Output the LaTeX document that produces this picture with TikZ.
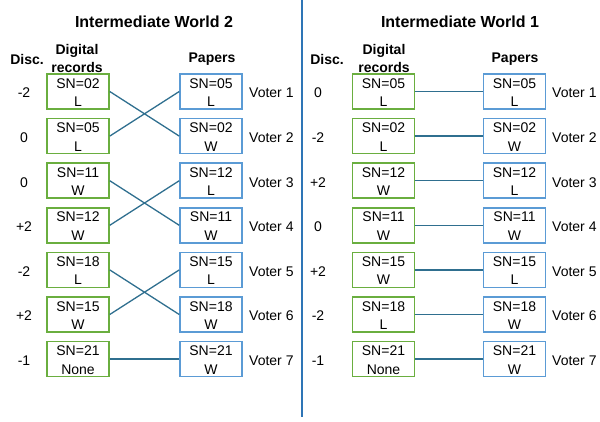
\documentclass[tikz,border=0pt]{standalone}
\usepackage{fontspec}
\setmainfont{Liberation Sans}
\definecolor{gbox}{HTML}{6AAE3F}
\definecolor{bbox}{HTML}{5B9BD5}
\definecolor{conn}{HTML}{2F6F8F}
\definecolor{divc}{HTML}{2E75B6}
\newcommand{\bxt}[2]{\rule{0pt}{11.5pt}#1\\#2}
\begin{document}
\begin{tikzpicture}[x=1pt,y=-1pt,
 box/.style={draw, line width=1.5pt, minimum width=62pt, minimum height=35pt, inner sep=0pt, align=center, font=\fontsize{14}{18.5}\selectfont},
 rec/.style={box, draw=gbox},
 pap/.style={box, draw=bbox},
 lbl/.style={font=\fontsize{14}{17}\selectfont, inner sep=0pt},
 hdr/.style={font=\fontsize{14}{18}\selectfont\bfseries, inner sep=0pt, align=center},
 ttl/.style={font=\fontsize{16}{19}\selectfont\bfseries, inner sep=0pt},
 link/.style={draw=conn, line width=1.3pt},
 divider/.style={draw=divc, line width=1.6pt}]
\useasboundingbox (0,0) rectangle (600,421);

% divider
\coordinate (dtop) at (302,0);
\coordinate (dbot) at (302,417);
\draw[divider] (dtop) -- (dbot);

% ---------- Left panel ----------
\node[ttl] (t2) at (154,22) {Intermediate World 2};
\node[hdr] (ldisc) at (27,59) {Disc.};
\node[hdr] (ldig) at (77,58) {Digital\\records};
\node[hdr] (lpap) at (212,59) {Papers};

\node[rec] (lr1) at (78,91.5) {\bxt{SN=02}{L}};
\node[rec] (lr2) at (78,136.1) {\bxt{SN=05}{L}};
\node[rec] (lr3) at (78,180.7) {\bxt{SN=11}{W}};
\node[rec] (lr4) at (78,225.3) {\bxt{SN=12}{W}};
\node[rec] (lr5) at (78,269.9) {\bxt{SN=18}{L}};
\node[rec] (lr6) at (78,314.5) {\bxt{SN=15}{W}};
\node[rec] (lr7) at (78,359.1) {\bxt{SN=21}{None}};

\node[pap] (lp1) at (211,91.5) {\bxt{SN=05}{L}};
\node[pap] (lp2) at (211,136.1) {\bxt{SN=02}{W}};
\node[pap] (lp3) at (211,180.7) {\bxt{SN=12}{L}};
\node[pap] (lp4) at (211,225.3) {\bxt{SN=11}{W}};
\node[pap] (lp5) at (211,269.9) {\bxt{SN=15}{L}};
\node[pap] (lp6) at (211,314.5) {\bxt{SN=18}{W}};
\node[pap] (lp7) at (211,359.1) {\bxt{SN=21}{W}};

\node[lbl] (ld1) at (24,93) {-2};
\node[lbl] (ld2) at (24,137.6) {0};
\node[lbl] (ld3) at (24,182.2) {0};
\node[lbl] (ld4) at (24,226.8) {+2};
\node[lbl] (ld5) at (24,271.4) {-2};
\node[lbl] (ld6) at (24,316) {+2};
\node[lbl] (ld7) at (24,360.6) {-1};

\node[lbl,anchor=west] (lv1) at (249,93) {Voter 1};
\node[lbl,anchor=west] (lv2) at (249,137.6) {Voter 2};
\node[lbl,anchor=west] (lv3) at (249,182.2) {Voter 3};
\node[lbl,anchor=west] (lv4) at (249,226.8) {Voter 4};
\node[lbl,anchor=west] (lv5) at (249,271.4) {Voter 5};
\node[lbl,anchor=west] (lv6) at (249,316) {Voter 6};
\node[lbl,anchor=west] (lv7) at (249,360.6) {Voter 7};

\draw[link] (lr1.east) -- (lp2.west);
\draw[link] (lr2.east) -- (lp1.west);
\draw[link] (lr3.east) -- (lp4.west);
\draw[link] (lr4.east) -- (lp3.west);
\draw[link] (lr5.east) -- (lp6.west);
\draw[link] (lr6.east) -- (lp5.west);
\draw[link] (lr7.east) -- (lp7.west);

% ---------- Right panel ----------
\node[ttl] (t1) at (460,22) {Intermediate World 1};
\node[hdr] (rdisc) at (327,59) {Disc.};
\node[hdr] (rdig) at (384,58) {Digital\\records};
\node[hdr] (rpap) at (515,59) {Papers};

\node[rec] (rr1) at (383.5,91.5) {\bxt{SN=05}{L}};
\node[rec] (rr2) at (383.5,136.1) {\bxt{SN=02}{L}};
\node[rec] (rr3) at (383.5,180.7) {\bxt{SN=12}{W}};
\node[rec] (rr4) at (383.5,225.3) {\bxt{SN=11}{W}};
\node[rec] (rr5) at (383.5,269.9) {\bxt{SN=15}{W}};
\node[rec] (rr6) at (383.5,314.5) {\bxt{SN=18}{L}};
\node[rec] (rr7) at (383.5,359.1) {\bxt{SN=21}{None}};

\node[pap] (rp1) at (514.5,91.5) {\bxt{SN=05}{L}};
\node[pap] (rp2) at (514.5,136.1) {\bxt{SN=02}{W}};
\node[pap] (rp3) at (514.5,180.7) {\bxt{SN=12}{L}};
\node[pap] (rp4) at (514.5,225.3) {\bxt{SN=11}{W}};
\node[pap] (rp5) at (514.5,269.9) {\bxt{SN=15}{L}};
\node[pap] (rp6) at (514.5,314.5) {\bxt{SN=18}{W}};
\node[pap] (rp7) at (514.5,359.1) {\bxt{SN=21}{W}};

\node[lbl] (rd1) at (318,93) {0};
\node[lbl] (rd2) at (318,137.6) {-2};
\node[lbl] (rd3) at (318,182.2) {+2};
\node[lbl] (rd4) at (318,226.8) {0};
\node[lbl] (rd5) at (318,271.4) {+2};
\node[lbl] (rd6) at (318,316) {-2};
\node[lbl] (rd7) at (318,360.6) {-1};

\node[lbl,anchor=west] (rv1) at (552,93) {Voter 1};
\node[lbl,anchor=west] (rv2) at (552,137.6) {Voter 2};
\node[lbl,anchor=west] (rv3) at (552,182.2) {Voter 3};
\node[lbl,anchor=west] (rv4) at (552,226.8) {Voter 4};
\node[lbl,anchor=west] (rv5) at (552,271.4) {Voter 5};
\node[lbl,anchor=west] (rv6) at (552,316) {Voter 6};
\node[lbl,anchor=west] (rv7) at (552,360.6) {Voter 7};

\draw[link] (rr1.east) -- (rp1.west);
\draw[link] (rr2.east) -- (rp2.west);
\draw[link] (rr3.east) -- (rp3.west);
\draw[link] (rr4.east) -- (rp4.west);
\draw[link] (rr5.east) -- (rp5.west);
\draw[link] (rr6.east) -- (rp6.west);
\draw[link] (rr7.east) -- (rp7.west);
\end{tikzpicture}
\end{document}
